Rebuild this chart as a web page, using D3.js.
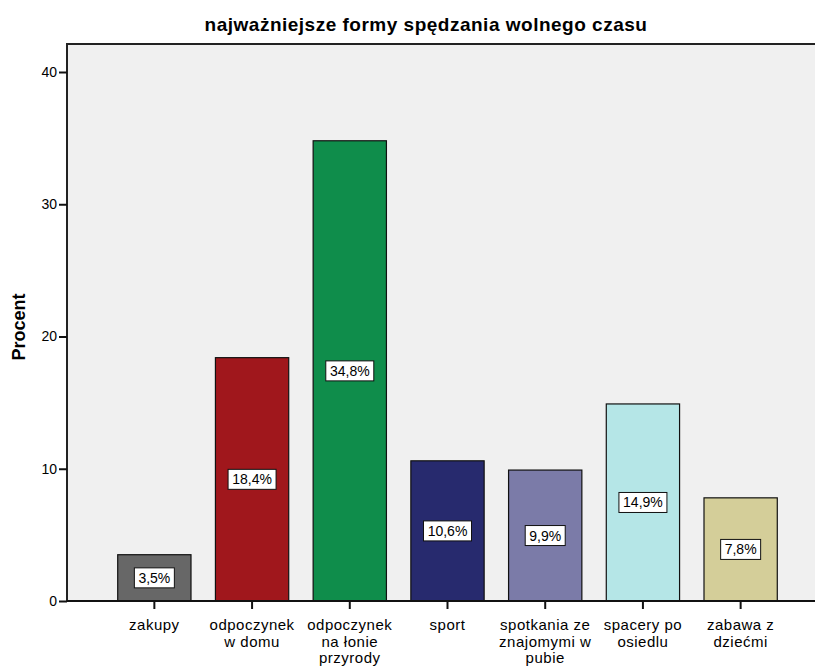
<!DOCTYPE html>
<html lang="pl">
<meta charset="utf-8">
<style>
body { margin: 0; background: white; }
svg { font-family: "Liberation Sans", Arial, sans-serif; }
.bar { stroke: #111; stroke-width: 1.2px; }
.lbl rect { fill: white; stroke: #111; stroke-width: 1px; }
.lbl text { font-size: 14px; fill: #000; }
.axis text { font-size: 14px; fill: #000; }
.axis .cat { font-size: 15px; letter-spacing: 0.5px; }
.axis line, .axis path { stroke: #111; stroke-width: 2px; }
</style>
<body>
<svg width="815" height="666"></svg>
<script src="https://d3js.org/d3.v7.min.js"></script>
<script>
var categories = [["zakupy"], ["odpoczynek", "w domu"], ["odpoczynek", "na łonie", "przyrody"], ["sport"],
                  ["spotkania ze", "znajomymi w", "pubie"], ["spacery po", "osiedlu"], ["zabawa z", "dziećmi"]];
var values = [3.5, 18.4, 34.8, 10.6, 9.9, 14.9, 7.8];
var colors = ["#676767", "#a0171c", "#0f8d4b", "#272a6e", "#7b7ba8", "#b5e6e7", "#d4ce99"];
var yTicks = [0, 10, 20, 30, 40];

var svg = d3.select("svg");
var plotL = 67, plotT = 44, plotR = 815, plotB = 601;

var x = d3.scaleBand()
    .domain(d3.range(values.length))
    .range([105.5, 789.5])
    .paddingInner(0.25)
    .paddingOuter(0.125);

var y = d3.scaleLinear()
    .domain([0, 40])
    .range([plotB, 72]);

// plot background
svg.append("rect")
    .attr("x", plotL).attr("y", plotT)
    .attr("width", plotR - plotL).attr("height", plotB - plotT)
    .attr("fill", "#f0f0f0");

svg.append("path")
    .attr("d", "M" + plotL + "," + plotB + "V" + plotT + "H" + (plotR + 5))
    .attr("fill", "none")
    .attr("stroke", "#222")
    .attr("stroke-width", 2);

// bars
svg.append("g").selectAll("rect")
    .data(values)
    .enter().append("rect")
        .attr("class", "bar")
        .attr("x", function(d, i) { return x(i); })
        .attr("y", function(d) { return y(d); })
        .attr("width", x.bandwidth())
        .attr("height", function(d) { return y(0) - y(d); })
        .attr("fill", function(d, i) { return colors[i]; });

// value labels
var lbl = svg.append("g").selectAll("g")
    .data(values)
    .enter().append("g")
        .attr("class", "lbl")
        .attr("transform", function(d, i) {
            return "translate(" + (x(i) + x.bandwidth() / 2) + "," + ((y(d) + y(0)) / 2) + ")";
        });

lbl.append("rect")
    .attr("x", function(d) { return d >= 10 ? -24 : -20; })
    .attr("y", -10)
    .attr("width", function(d) { return d >= 10 ? 48 : 40; })
    .attr("height", 20);

lbl.append("text")
    .attr("text-anchor", "middle")
    .attr("dy", 5)
    .text(function(d) { return d.toFixed(1).replace(".", ",") + "%"; });

// y axis
svg.append("g")
    .attr("class", "axis")
    .attr("transform", "translate(" + plotL + ",0)")
    .call(d3.axisLeft(y).tickValues(yTicks).tickSize(8).tickPadding(2))
    .call(function(g) { g.select(".domain").remove(); });

// x axis
var xAxis = svg.append("g")
    .attr("class", "axis")
    .attr("transform", "translate(0," + plotB + ")")
    .call(d3.axisBottom(x).tickSize(8).tickFormat(""));
xAxis.select(".domain").attr("d", "M" + plotL + ",0H" + (plotR + 5));

xAxis.selectAll(".tick").each(function(d) {
    var t = d3.select(this).append("text")
        .attr("class", "cat")
        .attr("text-anchor", "middle")
        .attr("y", 29);
    categories[d].forEach(function(line, k) {
        t.append("tspan").attr("x", 0).attr("dy", k ? 16.5 : 0).text(line);
    });
});

// title
svg.append("text")
    .attr("x", 426).attr("y", 31)
    .attr("text-anchor", "middle")
    .style("font-size", "19px").style("font-weight", "bold")
    .style("letter-spacing", "0.5px")
    .text("najważniejsze formy spędzania wolnego czasu");

// y label
svg.append("text")
    .attr("transform", "translate(25,327) rotate(-90)")
    .attr("text-anchor", "middle")
    .style("font-size", "18px").style("font-weight", "bold")
    .text("Procent");
</script>
</body>
</html>
